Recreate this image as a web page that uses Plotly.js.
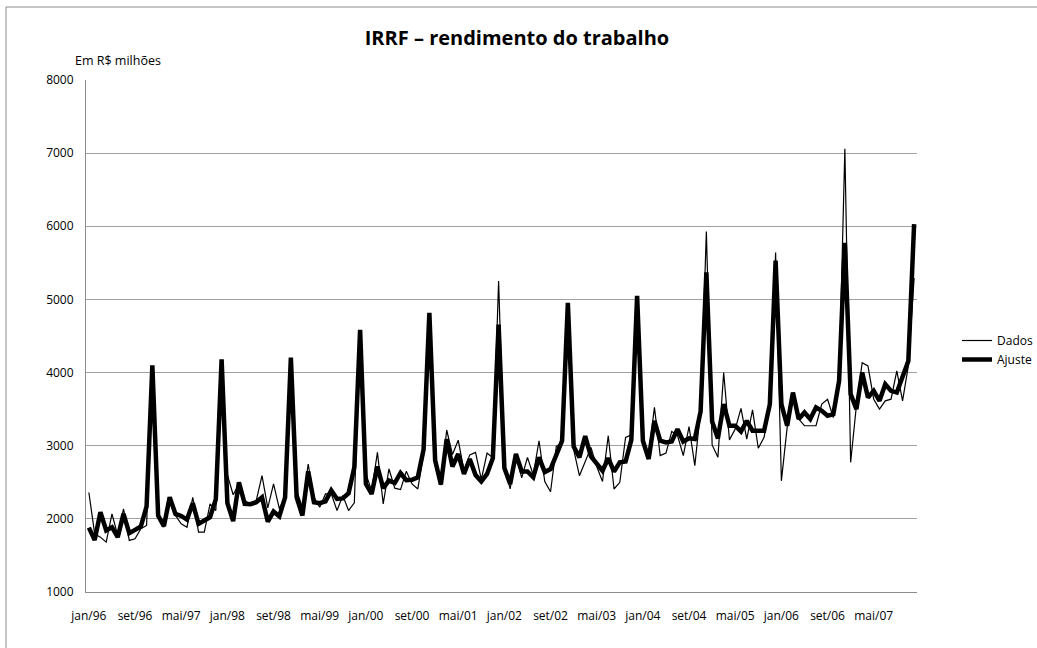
<!DOCTYPE html>
<html>
<head>
<meta charset="utf-8">
<script src="https://cdn.plot.ly/plotly-3.0.1.min.js"></script>
<style>html,body{margin:0;padding:0;background:#fff;}#chart{width:1037px;height:648px;}</style>
</head>
<body>
<div id="chart"></div>
<script>
// Month name abbreviations and years used for the category labels
const monthNames = ["jan","fev","mar","abr","mai","jun","jul","ago","set","out","nov","dez"];
const years = ["96","97","98","99","00","01","02","03","04","05","06","07"];

// Tick labels shown on the x axis (every 8 months)
const tickLabels = ["jan/96","set/96","mai/97","jan/98","set/98","mai/99","jan/00","set/00","mai/01",
  "jan/02","set/02","mai/03","jan/04","set/04","mai/05","jan/06","set/06","mai/07"];

// Dados (observed) – R$ milhões, jan/96 .. dez/07
const dados = [
  2360,1795,1750,1682,2068,1773,2136,1705,1727,1864,1909,4080,
  2023,1886,2250,2045,1932,1886,2295,1818,1818,2205,2114,4150,
  2600,2330,2477,2250,2200,2250,2590,2150,2477,2140,2300,4200,
  2386,2159,2750,2295,2159,2341,2341,2114,2320,2114,2220,4570,
  2614,2386,2909,2205,2682,2420,2400,2650,2477,2409,2886,4800,
  2800,2460,3215,2880,3075,2660,2875,2909,2540,2900,2835,5250,
  2710,2409,2886,2560,2841,2600,3068,2510,2370,2990,3040,4930,
  2950,2590,2780,2977,2715,2510,3137,2408,2500,3114,3150,5030,
  3040,2886,3525,2864,2900,3195,3140,2864,3260,2727,3480,5930,
  3010,2841,4000,3080,3228,3510,3091,3490,2965,3114,3545,5640,
  2520,3250,3705,3364,3273,3273,3273,3568,3636,3386,3886,7060,
  2773,3550,4136,4091,3636,3500,3614,3636,4023,3614,4091,5295
];

// Ajuste (fitted) – R$ milhões, jan/96 .. dez/07
const ajuste = [
  1880,1710,2090,1841,1886,1750,2068,1805,1850,1895,2170,4100,
  2045,1900,2295,2068,2040,1990,2215,1932,1977,2023,2270,4180,
  2215,1970,2500,2205,2200,2227,2295,1962,2100,2034,2295,4205,
  2295,2045,2650,2227,2214,2240,2390,2273,2280,2350,2705,4585,
  2477,2341,2716,2420,2523,2490,2627,2530,2534,2568,2950,4818,
  2800,2470,3090,2716,2886,2614,2818,2600,2510,2614,2830,4655,
  2694,2477,2886,2648,2648,2568,2841,2640,2680,2860,3068,4952,
  2990,2841,3130,2852,2761,2658,2829,2646,2772,2784,3080,5050,
  3068,2818,3340,3068,3045,3057,3227,3057,3102,3091,3467,5370,
  3330,3100,3570,3273,3273,3195,3341,3205,3205,3205,3568,5530,
  3568,3273,3727,3364,3455,3364,3523,3477,3409,3432,3886,5775,
  3705,3500,4000,3659,3750,3614,3841,3750,3727,3932,4159,6030
];

// Category labels (month/year)
const categories = [];
years.forEach(y => monthNames.forEach(m => categories.push(m + "/" + y)));

const FONT = "Open Sans, Noto Sans, Liberation Sans, sans-serif";

const traces = [
  {x: categories, y: dados, name: "Dados", type: "scatter", mode: "lines",
   line: {color: "#000000", width: 1.2}},
  {x: categories, y: ajuste, name: "Ajuste", type: "scatter", mode: "lines",
   line: {color: "#000000", width: 4.5}}
];

// plot area in px: left 86, right 917, top 80, bottom 592
const L = 86, R = 917, T = 80, B = 592, W = 1037, H = 648;
const px2x = p => (p - L) / (R - L);
const px2y = p => (B - p) / (B - T);

const layout = {
  width: W, height: H,
  margin: {l: L, r: W - R, t: T, b: H - B, pad: 0, autoexpand: false},
  paper_bgcolor: "#ffffff", plot_bgcolor: "#ffffff",
  font: {family: FONT, size: 12, color: "#000000"},
  showlegend: true,
  title: {text: "<b>IRRF – rendimento do trabalho</b>", font: {family: FONT, size: 20, color: "#000"},
          xref: "container", yref: "container", x: 517 / W, y: 1 - 38 / H, xanchor: "center", yanchor: "middle"},
  xaxis: {
    type: "category", range: [-0.5, categories.length - 0.5],
    tickmode: "array", tickvals: tickLabels, ticktext: tickLabels,
    showgrid: false, zeroline: false, showline: true, linecolor: "#8c8c8c", linewidth: 1,
    ticks: "", ticklabelstandoff: 13, tickangle: 0, automargin: false,
    tickfont: {family: FONT, size: 12, color: "#000"}
  },
  yaxis: {
    range: [1000, 8000], tick0: 1000, dtick: 1000,
    showgrid: true, gridcolor: "#a0a0a0", gridwidth: 1,
    zeroline: false, showline: true, linecolor: "#8c8c8c", linewidth: 1,
    ticks: "", ticklabelstandoff: 9, tickformat: "d", automargin: false,
    tickfont: {family: FONT, size: 12, color: "#000"}
  },
  legend: {
    x: px2x(957), y: px2y(326), xanchor: "left", yanchor: "top",
    bgcolor: "rgba(0,0,0,0)", borderwidth: 0,
    font: {family: FONT, size: 12, color: "#000"},
    tracegroupgap: 0
  },
  annotations: [
    {text: "Em R$ milhões", xref: "paper", yref: "paper", x: px2x(73), y: px2y(60),
     xanchor: "left", yanchor: "middle", showarrow: false,
     font: {family: FONT, size: 12.5, color: "#000"}}
  ],
  shapes: [
    {type: "line", xref: "paper", yref: "paper", x0: px2x(6), x1: px2x(1045), y0: px2y(7), y1: px2y(7),
     line: {color: "#8c8c8c", width: 1}},
    {type: "line", xref: "paper", yref: "paper", x0: px2x(6), x1: px2x(6), y0: px2y(7), y1: px2y(660),
     line: {color: "#8c8c8c", width: 1}}
  ]
};

Plotly.newPlot("chart", traces, layout, {displayModeBar: false, staticPlot: true});
</script>
</body>
</html>
